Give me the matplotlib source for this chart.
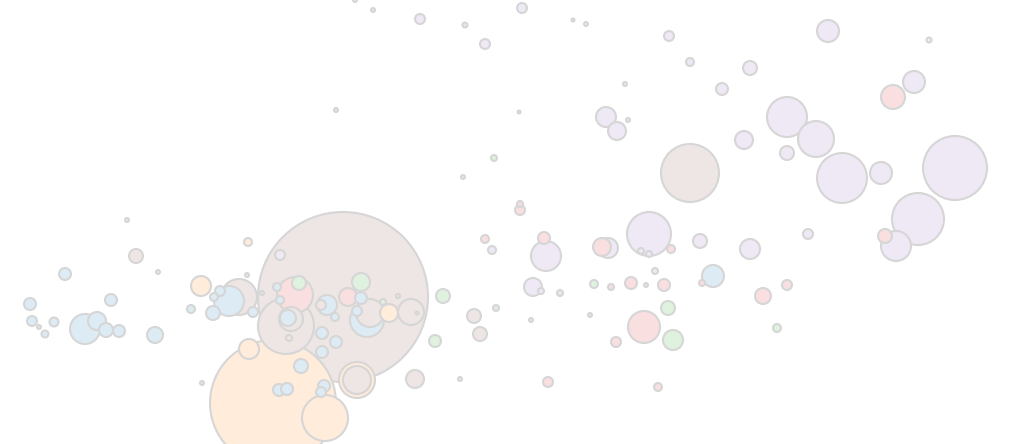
import numpy as np
import matplotlib
matplotlib.use("Agg")
import matplotlib.pyplot as plt

# bubbles per group: (x, y, radius) in chart units
blue_pts = [
    (65, 274, 6), (111, 300, 6), (30, 304, 6), (32, 321, 5), (45, 334, 3.5),
    (54, 322, 4.5), (85, 329, 15), (97, 321, 9), (106, 330, 7), (119, 331, 6),
    (155, 335, 8), (191, 309, 4), (229, 301, 15), (220, 291, 5), (214, 297, 4),
    (213, 313, 7), (253, 312, 5), (277, 287, 4), (280, 300, 4), (288, 318, 8),
    (327, 305, 10), (335, 317, 4), (361, 298, 6), (357, 311, 5), (367, 320, 17),
    (322, 333, 6), (336, 342, 6), (322, 352, 6), (301, 366, 7), (279, 390, 6),
    (287, 389, 6), (324, 386, 6), (321, 392, 5), (496, 308, 3), (713, 276, 11),
    (39, 327, 2), (158, 272, 2), (262, 293, 2),
]
orange_pts = [
    (248, 242, 4), (201, 286, 10), (389, 313, 9), (249, 349, 10), (273, 403, 63),
    (325, 418, 23), (357, 380, 18),
]
green_pts = [
    (299, 283, 7), (361, 282, 9), (383, 302, 3), (443, 296, 7), (435, 341, 6),
    (560, 293, 3), (594, 284, 4), (668, 308, 7), (673, 340, 10), (777, 328, 4),
    (494, 158, 3),
]
red_pts = [
    (295, 295, 18), (348, 297, 9), (520, 210, 5), (520, 204, 3), (485, 239, 4),
    (544, 238, 6), (611, 287, 3), (631, 283, 6), (664, 285, 6), (602, 247, 9),
    (671, 249, 4), (644, 327, 16), (616, 342, 5), (548, 382, 5), (658, 387, 4),
    (702, 283, 3), (763, 296, 8), (787, 285, 5), (885, 236, 7), (893, 97, 12),
]
purple_pts = [
    (280, 255, 5), (492, 250, 4), (546, 256, 15), (533, 287, 9), (541, 291, 3),
    (608, 248, 10), (649, 234, 22), (641, 251, 3), (649, 254, 3), (655, 271, 3),
    (700, 241, 7), (750, 249, 10), (808, 234, 5), (918, 219, 26), (896, 246, 15),
    (669, 36, 5), (690, 62, 4), (722, 89, 6), (750, 68, 7), (828, 31, 11),
    (606, 117, 10), (617, 131, 9), (744, 140, 9), (787, 117, 20), (816, 139, 18),
    (787, 153, 7), (842, 178, 25), (881, 173, 11), (955, 168, 32), (914, 82, 11),
    (420, 19, 5), (485, 44, 5), (522, 8, 5),
    (586, 24, 2), (625, 84, 2), (628, 120, 2), (929, 40, 2.5), (573, 20, 1.5),
]
brown_pts = [
    (136, 256, 7), (239, 297, 18), (343, 297, 85), (286, 326, 28), (291, 319, 12),
    (321, 305, 5), (370, 313, 14), (411, 312, 13), (357, 380, 14), (415, 379, 9),
    (474, 316, 7), (480, 334, 7), (690, 173, 29),
    (127, 220, 2), (247, 275, 2), (289, 338, 3), (398, 296, 2), (202, 383, 2),
    (460, 379, 2), (531, 320, 2), (590, 315, 2), (646, 285, 2), (355, 0, 2),
    (373, 10, 2), (465, 25, 2.5), (336, 110, 2), (519, 112, 1.5), (463, 177, 2),
    (417, 313, 1.5),
]

groups = [
    (blue_pts, "#1f77b4"),
    (orange_pts, "#ff7f0e"),
    (green_pts, "#2ca02c"),
    (red_pts, "#d62728"),
    (purple_pts, "#9467bd"),
    (brown_pts, "#8c564b"),
]


def faded(c, a=0.15):
    # flat pastel: colour blended onto white
    rgb = np.array(matplotlib.colors.to_rgb(c))
    return tuple(1 - a * (1 - rgb))


DPI = 100
fig = plt.figure(figsize=(10.24, 4.44), dpi=DPI)
ax = fig.add_axes([0, 0, 1, 1])
ax.set_xlim(0, 1024)
ax.set_ylim(444, 0)
ax.axis("off")

# gather everything, draw biggest first so small bubbles sit on top
xs, ys, rs, cols = [], [], [], []
for pts, c in groups:
    for x, y, r in pts:
        xs.append(x)
        ys.append(y)
        rs.append(r)
        cols.append(faded(c))
xs, ys, rs = np.array(xs), np.array(ys), np.array(rs)
order = np.argsort(-rs, kind="stable")

# radius (1 unit = 1 px) -> marker area in points^2
sizes = (2 * rs * 72 / DPI) ** 2

ax.scatter(xs[order], ys[order], s=sizes[order],
           c=[cols[i] for i in order],
           edgecolors="#d6d6d6", linewidths=1.5)

fig.savefig("out.png", dpi=DPI)
